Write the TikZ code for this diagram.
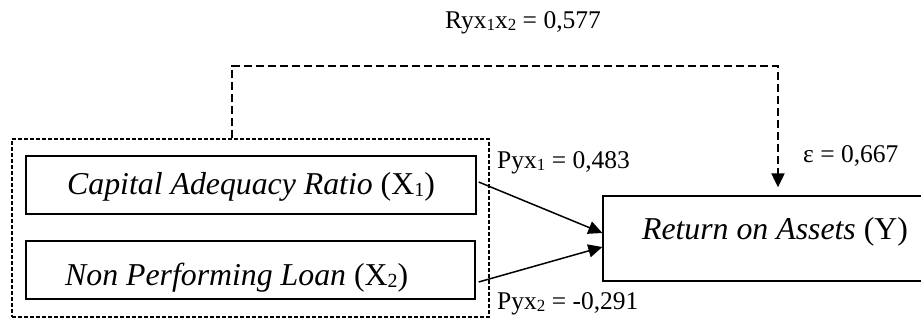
\documentclass[tikz,border=0pt]{standalone}
\usepackage{fontspec}
\setmainfont{Liberation Serif}
\usetikzlibrary{arrows.meta,calc}
\newcommand{\sbs}[2]{\raisebox{-2pt}{\fontsize{#1}{#1}\selectfont #2}}
\begin{document}
\begin{tikzpicture}[x=1pt,y=-1pt,
  varbox/.style={draw, line width=1.3pt, inner sep=0pt},
  grpbox/.style={draw, line width=1.1pt, dash pattern=on 4pt off 2pt, inner sep=0pt},
  boxtext/.style={font=\fontsize{31.8}{36}\selectfont, anchor=base west, inner sep=0pt},
  ytext/.style={font=\fontsize{31.8}{36}\selectfont, anchor=base, inner sep=0pt},
  lbl/.style={font=\fontsize{25.5}{29}\selectfont, inner sep=0pt},
  patharrow/.style={line width=1.5pt, -{Triangle[length=14pt,width=13pt]}},
  corrline/.style={line width=2pt, dash pattern=on 8pt off 4pt, -{Triangle[length=14pt,width=13pt]}}
]
\useasboundingbox (0,0) rectangle (921,320);
% group box
\node[grpbox, minimum width=477pt, minimum height=178pt] (grp) at (250.5,228) {};
% variable boxes
\node[varbox, minimum width=450pt, minimum height=58pt] (b1) at (251,185) {};
\node[varbox, minimum width=449pt, minimum height=58pt] (b2) at (250.5,270) {};
\node[varbox, minimum width=347pt, minimum height=85pt] (yb) at (776.5,238.5) {};
% texts
\node[boxtext] (t1) at (67,195) {\textit{Capital Adequacy Ratio} (X\sbs{20}{1})};
\node[boxtext] (t2) at (65,286) {\textit{Non Performing Loan} (X\sbs{20}{2})};
\node[ytext] (ty) at (775,240) {\textit{Return on Assets} (Y)};
% labels
\node[lbl, anchor=base] (r) at (523,29) {Ryx\sbs{17}{1}x\sbs{17}{2} = 0,577};
\node[lbl, anchor=base west] (p1) at (497,169) {Pyx\sbs{17}{1} = 0,483};
\node[lbl, anchor=base west] (p2) at (497,309) {Pyx\sbs{17}{2} = -0,291};
\node[lbl, anchor=base west] (eps) at (803,163) {ε = 0,667};
% correlation path
\coordinate (c1) at (232,66);
\coordinate (c2) at (778,66);
\draw[corrline] (grp.north -| c1) -- (c1) -- (c2) -- ([yshift=8pt]yb.north -| c2);
% path arrows
\draw[patharrow] ([xshift=2pt,yshift=3pt]b1.east) -- ([yshift=5.5pt]yb.west);
\draw[patharrow] ([xshift=3pt,yshift=-12pt]b2.east) -- ([yshift=-8.5pt]yb.west);
\end{tikzpicture}
\end{document}
